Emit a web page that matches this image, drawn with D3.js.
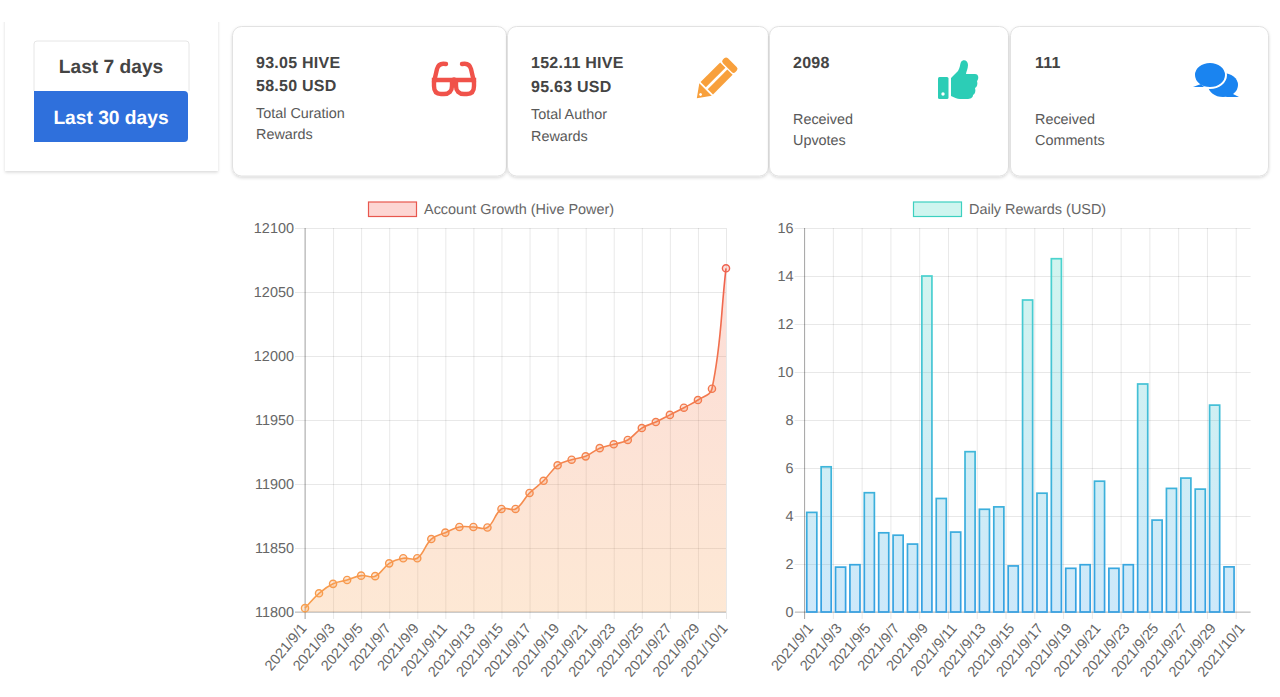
<!DOCTYPE html>
<html>
<head>
<meta charset="utf-8">
<script src="https://cdn.jsdelivr.net/npm/d3@7"></script>
<style>
  html, body { margin: 0; padding: 0; background: #fff; }
  svg { display: block; }
  text { font-family: "Liberation Sans", Arial, sans-serif; text-rendering: geometricPrecision; }
  .axis text { fill: #666; font-size: 14.45px; }
  .axis .domain { stroke: none; }
  .axis line { stroke: rgba(0,0,0,0.09); }
</style>
</head>
<body>
<div id="chart"></div>
<script>
// width and height of the page
var w = 1280;
var h = 697;

// the days on both charts
var days = ["2021/9/1","2021/9/2","2021/9/3","2021/9/4","2021/9/5","2021/9/6","2021/9/7","2021/9/8",
  "2021/9/9","2021/9/10","2021/9/11","2021/9/12","2021/9/13","2021/9/14","2021/9/15","2021/9/16",
  "2021/9/17","2021/9/18","2021/9/19","2021/9/20","2021/9/21","2021/9/22","2021/9/23","2021/9/24",
  "2021/9/25","2021/9/26","2021/9/27","2021/9/28","2021/9/29","2021/9/30","2021/10/1"];

// labels that are shown on the x axis
var dayTicks = ["2021/9/1","2021/9/3","2021/9/5","2021/9/7","2021/9/9","2021/9/11","2021/9/13","2021/9/15",
  "2021/9/17","2021/9/19","2021/9/21","2021/9/23","2021/9/25","2021/9/27","2021/9/29","2021/10/1"];

var hivePower = [11803, 11814.6, 11822, 11825, 11828.4, 11828, 11838, 11842, 11842, 11857, 11862, 11866.4,
  11866.4, 11866, 11880.5, 11880.5, 11893, 11902.5, 11914.6, 11919, 11921.6, 11928, 11931, 11934.4,
  11943.7, 11948.4, 11954, 11959.6, 11965.6, 11974.4, 12068.5];

// there is no bar for the last day
var dailyRewards = [4.15, 6.05, 1.87, 1.97, 4.97, 3.3, 3.2, 2.83, 14, 4.73, 3.33, 6.68, 4.28, 4.38, 1.92,
  13, 4.95, 14.72, 1.82, 1.97, 5.45, 1.82, 1.97, 9.5, 3.83, 5.15, 5.58, 5.12, 8.62, 1.88];

var hiveTicks = [11800, 11850, 11900, 11950, 12000, 12050, 12100];
var rewardTicks = [0, 2, 4, 6, 8, 10, 12, 14, 16];

var rangeLabels = ["Last 7 days", "Last 30 days"];
var cardValues = [["93.05 HIVE", "58.50 USD"], ["152.11 HIVE", "95.63 USD"], ["2098"], ["111"]];
var cardLabels = [["Total Curation", "Rewards"], ["Total Author", "Rewards"], ["Received", "Upvotes"], ["Received", "Comments"]];

var svg = d3.select("#chart").append("svg")
  .attr("width", w)
  .attr("height", h);

var defs = svg.append("defs");

// soft shadow for the cards
var shadow = defs.append("filter")
  .attr("id", "shadow")
  .attr("x", "-5%").attr("y", "-5%")
  .attr("width", "110%").attr("height", "115%");
shadow.append("feDropShadow")
  .attr("dx", 0).attr("dy", 1.5)
  .attr("stdDeviation", 1.8)
  .attr("flood-color", "#000")
  .attr("flood-opacity", 0.15);

// vertical gradients, same idea as the canvas gradients in the original
function addGradient(id, top, bottom, y1, y2, topOpacity, bottomOpacity) {
  var g = defs.append("linearGradient")
    .attr("id", id)
    .attr("gradientUnits", "userSpaceOnUse")
    .attr("x1", 0).attr("x2", 0)
    .attr("y1", y1).attr("y2", y2);
  g.append("stop").attr("offset", 0).attr("stop-color", top).attr("stop-opacity", topOpacity);
  g.append("stop").attr("offset", 1).attr("stop-color", bottom).attr("stop-opacity", bottomOpacity);
}
addGradient("lineStroke", "#ee5a4e", "#f8a04e", 228, 612, 1, 1);
addGradient("lineFill", "#f0604e", "#f8a04e", 228, 612, 0.22, 0.24);
addGradient("barStroke", "#4dd8cc", "#35a0e2", 228, 612, 1, 1);
addGradient("barFill", "#4bd7bb", "#4daded", 228, 612, 0.25, 0.28);

// spline like the one the original chart draws, tension 0.4
function chartSpline(context) {
  var pts = [];
  return {
    lineStart: function() { pts = []; },
    point: function(x, y) { pts.push([+x, +y]); },
    lineEnd: function() {
      var t = 0.4;
      var ctrl = pts.map(function(p, i) {
        var prev = pts[i - 1] || p;
        var next = pts[i + 1] || p;
        var d01 = Math.hypot(p[0] - prev[0], p[1] - prev[1]);
        var d12 = Math.hypot(next[0] - p[0], next[1] - p[1]);
        var sum = d01 + d12 || 1;
        var fa = t * d01 / sum;
        var fb = t * d12 / sum;
        return {
          px: p[0] - fa * (next[0] - prev[0]),
          py: p[1] - fa * (next[1] - prev[1]),
          nx: p[0] + fb * (next[0] - prev[0]),
          ny: p[1] + fb * (next[1] - prev[1])
        };
      });
      pts.forEach(function(p, i) {
        if (i == 0) { context.moveTo(p[0], p[1]); return; }
        context.bezierCurveTo(ctrl[i - 1].nx, ctrl[i - 1].ny, ctrl[i].px, ctrl[i].py, p[0], p[1]);
      });
    }
  };
}

// ---------- top panels ----------
svg.append("rect")
  .attr("x", 5).attr("y", 10)
  .attr("width", 213).attr("height", 161)
  .attr("fill", "#fff")
  .attr("filter", "url(#shadow)");
// the panel is cut at the top
svg.append("rect")
  .attr("x", 0).attr("y", 0)
  .attr("width", 225).attr("height", 22)
  .attr("fill", "#fff");

svg.append("path")
  .attr("d", "M34,91V44a3,3 0 0 1 3,-3H186a3,3 0 0 1 3,3V91")
  .attr("fill", "#fff")
  .attr("stroke", "#e6e6e6");
svg.append("path")
  .attr("d", "M34,91H184a4,4 0 0 1 4,4V138a4,4 0 0 1 -4,4H34Z")
  .attr("fill", "#2f70dc");

svg.selectAll(".range")
  .data(rangeLabels)
  .enter()
  .append("text")
  .attr("class", "range")
  .attr("x", 111)
  .attr("y", function(d, i) { return i == 0 ? 73 : 124; })
  .attr("text-anchor", "middle")
  .attr("font-size", "19.2px")
  .attr("font-weight", "700")
  .attr("fill", function(d, i) { return i == 0 ? "#444" : "#fff"; })
  .text(function(d) { return d; });

var cardBoxes = [
  { x: 232, w: 275, tx: 256, vy: [68, 91], ly: [118, 139] },
  { x: 507, w: 262, tx: 531, vy: [68, 92], ly: [119, 141] },
  { x: 769, w: 240, tx: 793, vy: [68], ly: [124, 145] },
  { x: 1010, w: 259, tx: 1035, vy: [68], ly: [124, 145] }
];

cardBoxes.forEach(function(c, i) {
  svg.append("rect")
    .attr("x", c.x + 0.5).attr("y", 26.5)
    .attr("width", c.w - 1).attr("height", 149.5)
    .attr("rx", 9)
    .attr("fill", "#fff")
    .attr("stroke", "#e2e2e2")
    .attr("filter", "url(#shadow)");

  cardValues[i].forEach(function(t, j) {
    svg.append("text")
      .attr("x", c.tx).attr("y", c.vy[j])
      .attr("font-size", "16px")
      .attr("font-weight", "700")
      .attr("letter-spacing", "0.25px")
      .attr("fill", "#444")
      .text(t);
  });
  cardLabels[i].forEach(function(t, j) {
    svg.append("text")
      .attr("x", c.tx).attr("y", c.ly[j])
      .attr("font-size", "14.4px")
      .attr("fill", "#595959")
      .text(t);
  });
});

// glasses icon
var glasses = svg.append("g")
  .attr("fill", "none")
  .attr("stroke", "#f0524a")
  .attr("stroke-width", 4.4)
  .attr("stroke-linecap", "round");
glasses.append("path")
  .attr("d", "M434,80H452V86C452,91 449,94 444,94H441C436,94 434,91 434,86Z");
glasses.append("path")
  .attr("d", "M456,80H474V86C474,91 472,94 467,94H464C459,94 456,91 456,86Z");
glasses.append("path").attr("d", "M452,81C453,79 455,79 456,81");
glasses.append("path").attr("d", "M434,82L437,69C438,65 441,63 446,64");
glasses.append("path").attr("d", "M474,82L471,69C470,65 467,63 462,64");

// pencil icon
var pencil = svg.append("g")
  .attr("transform", "translate(715.5,79.5) rotate(45) scale(0.88)")
  .attr("fill", "#f8a03c");
pencil.append("rect").attr("x", -10).attr("y", -27).attr("width", 20).attr("height", 8).attr("rx", 3);
pencil.append("path").attr("d", "M-10,-17.5H-1.5V14H-10Z");
pencil.append("path").attr("d", "M1.5,-17.5H10V14H1.5Z");
pencil.append("path").attr("d", "M-10,16H10L0,30Z");
pencil.append("circle").attr("cx", 0).attr("cy", 24).attr("r", 1.6).attr("fill", "#fff");

// thumb icon
var thumb = svg.append("g").attr("fill", "#2ccdb6");
thumb.append("rect").attr("x", 938).attr("y", 77).attr("width", 10.5).attr("height", 22).attr("rx", 1.5);
thumb.append("circle").attr("cx", 943).attr("cy", 94).attr("r", 1.7).attr("fill", "#fff");
thumb.append("path")
  .attr("d", "M951,78L958,71C960,68 960,64 961,62C963,59 968,60 968,65C968,69 966,72 966,74H975C979,74 979,79 977,81C978,84 977,87 975,88C976,91 975,94 973,95C973,98 970,99 967,99H960C957,99 954,97 951,96Z");

// comments icon
var comments = svg.append("g").attr("fill", "#1a84f0");
comments.append("ellipse").attr("cx", 1223).attr("cy", 85).attr("rx", 15).attr("ry", 12);
comments.append("path").attr("d", "M1229,92L1239,97H1226Z");
comments.append("ellipse")
  .attr("cx", 1210).attr("cy", 75)
  .attr("rx", 16).attr("ry", 13)
  .attr("stroke", "#fff").attr("stroke-width", 2);
comments.append("path").attr("d", "M1201,84L1193,87H1204Z");

// ---------- account growth chart ----------
var xLine = d3.scalePoint()
  .domain(days)
  .range([305, 726]);

var yLine = d3.scaleLinear()
  .domain([11800, 12100])
  .range([612, 228]);

// labelShift moves the rotated labels along x from the tick
function drawXAxis(g, labelShift) {
  g.attr("class", "axis");
  g.selectAll(".tick").append("line")
    .attr("class", "tickmark")
    .attr("y1", 0).attr("y2", 7)
    .attr("stroke", "rgba(0,0,0,0.1)");
  g.selectAll(".tick text")
    .attr("text-anchor", "end")
    .attr("dx", 0)
    .attr("dy", 0)
    .attr("y", 0)
    .attr("transform", "translate(" + labelShift + ",16.5) rotate(-50)");
}

function drawYAxis(g, width) {
  g.attr("class", "axis");
  g.selectAll(".tick line")
    .attr("x1", -10)
    .attr("x2", width);
  g.selectAll(".tick text")
    .attr("x", -11)
    .attr("dy", "0.34em");
}

// adding the x axis with the gridlines
var xLineAxis = d3.axisBottom(xLine)
  .tickValues(dayTicks)
  .tickSize(-384)
  .tickPadding(0);
drawXAxis(svg.append("g").attr("transform", "translate(0,612)").call(xLineAxis), 2);

// adding the y axis with the gridlines
var yLineAxis = d3.axisLeft(yLine)
  .tickValues(hiveTicks)
  .tickSize(0)
  .tickFormat(d3.format("d"));
drawYAxis(svg.append("g").attr("transform", "translate(305,0)").call(yLineAxis), 421);

// darker lines along the left and the bottom
svg.append("line")
  .attr("x1", 305).attr("x2", 305)
  .attr("y1", 228).attr("y2", 619)
  .attr("stroke", "rgba(0,0,0,0.3)");
svg.append("line")
  .attr("x1", 295).attr("x2", 726)
  .attr("y1", 612).attr("y2", 612)
  .attr("stroke", "rgba(0,0,0,0.25)");

var line = d3.line()
  .x(function(d, i) { return xLine(days[i]); })
  .y(function(d) { return yLine(d); })
  .curve(chartSpline);

// the area under the line
svg.append("path")
  .datum(hivePower)
  .attr("fill", "url(#lineFill)")
  .attr("d", function(d) {
    return line(d) + "L" + xLine(days[days.length - 1]) + "," + yLine(11800) + "H" + xLine(days[0]) + "Z";
  });

svg.append("path")
  .datum(hivePower)
  .attr("fill", "none")
  .attr("stroke", "url(#lineStroke)")
  .attr("stroke-width", 1.6)
  .attr("d", line);

// Add dots for each data point
svg.selectAll(".dot")
  .data(hivePower)
  .enter()
  .append("circle")
  .attr("class", "dot")
  .attr("cx", function(d, i) { return xLine(days[i]); })
  .attr("cy", function(d) { return yLine(d); })
  .attr("r", 3.6)
  .attr("fill", "url(#lineFill)")
  .attr("stroke", "url(#lineStroke)")
  .attr("stroke-width", 1.4);

// legend
svg.append("rect")
  .attr("x", 368.5).attr("y", 202)
  .attr("width", 48).attr("height", 14.5)
  .attr("fill", "#fdd6d3")
  .attr("stroke", "#e8574e")
  .attr("stroke-width", 1.2);
svg.append("text")
  .attr("x", 424).attr("y", 214)
  .attr("font-size", "14.45px")
  .attr("fill", "#666")
  .text("Account Growth (Hive Power)");

// ---------- daily rewards chart ----------
var xBar = d3.scaleBand()
  .domain(days)
  .range([804.6, 1250.6])
  .paddingInner(0.3)
  .paddingOuter(0.15);

var yBar = d3.scaleLinear()
  .domain([0, 16])
  .range([612, 228]);

// ticks sit on the left edge of each band
function barTick(d) {
  return xBar(d) - xBar.step() * xBar.paddingInner() / 2;
}

var xBarAxis = d3.axisBottom(xBar)
  .tickValues(dayTicks)
  .tickSize(-384)
  .tickPadding(0);
var xBarGroup = svg.append("g").attr("transform", "translate(0,612)").call(xBarAxis);
xBarGroup.selectAll(".tick")
  .attr("transform", function(d) { return "translate(" + barTick(d) + ",0)"; });
// the labels here stay on the middle of the band
drawXAxis(xBarGroup, 2 + xBar.step() / 2);
// one gridline is darker in the original
xBarGroup.selectAll(".tick")
  .filter(function(d) { return d == "2021/9/17"; })
  .select("line")
  .attr("stroke", "rgba(0,0,0,0.28)");

var yBarAxis = d3.axisLeft(yBar)
  .tickValues(rewardTicks)
  .tickSize(0);
drawYAxis(svg.append("g").attr("transform", "translate(804.6,0)").call(yBarAxis), 446);

svg.append("line")
  .attr("x1", 804.6).attr("x2", 804.6)
  .attr("y1", 228).attr("y2", 619)
  .attr("stroke", "rgba(0,0,0,0.3)");
svg.append("line")
  .attr("x1", 795).attr("x2", 1250.6)
  .attr("y1", 612).attr("y2", 612)
  .attr("stroke", "rgba(0,0,0,0.25)");

// Create the bars
svg.selectAll(".bar")
  .data(dailyRewards)
  .enter()
  .append("rect")
  .attr("class", "bar")
  .attr("x", function(d, i) { return xBar(days[i]); })
  .attr("y", function(d) { return yBar(d); })
  .attr("width", xBar.bandwidth())
  .attr("height", function(d) { return yBar(0) - yBar(d); })
  .attr("fill", "url(#barFill)")
  .attr("stroke", "url(#barStroke)")
  .attr("stroke-width", 1.7);

// legend
svg.append("rect")
  .attr("x", 913.5).attr("y", 202)
  .attr("width", 48).attr("height", 14.5)
  .attr("fill", "#cff5ef")
  .attr("stroke", "#3dd0c0")
  .attr("stroke-width", 1.2);
svg.append("text")
  .attr("x", 969).attr("y", 214)
  .attr("font-size", "14.45px")
  .attr("fill", "#666")
  .text("Daily Rewards (USD)");
</script>
</body>
</html>
